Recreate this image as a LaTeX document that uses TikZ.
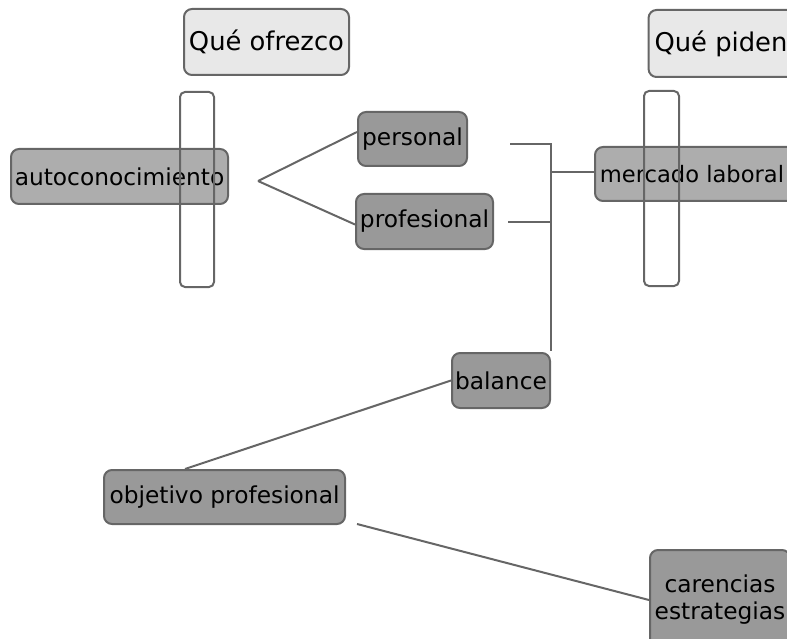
\documentclass[tikz,border=0pt]{standalone}
\usepackage{fontspec}
\setmainfont{DejaVu Sans}
\definecolor{edgegray}{HTML}{666666}
\definecolor{darkfill}{HTML}{999999}
\definecolor{midfill}{HTML}{ADADAD}
\definecolor{lightfill}{HTML}{E8E8E8}
\begin{document}
\begin{tikzpicture}[x=1pt,y=-1pt,
  box/.style={draw=edgegray,line width=2pt,rounded corners=8pt,inner sep=0pt,
    font=\fontsize{23.3}{27}\selectfont,text=black,align=center},
  darkbox/.style={box,fill=darkfill},
  midbox/.style={box,fill=midfill},
  titlebox/.style={box,fill=lightfill,font=\fontsize{25.8}{30}\selectfont},
  barbox/.style={draw=edgegray,line width=2pt,rounded corners=5pt,inner sep=0pt},
  link/.style={draw=edgegray,line width=2pt}]
\useasboundingbox (0,0) rectangle (787,639);
\clip (0,0) rectangle (787,639);

\node[titlebox,minimum width=165pt,minimum height=66pt] (qo) at (266.5,42) {Qué ofrezco};
\node[titlebox,minimum width=146pt,minimum height=67pt] (qp) at (722,43.5) {\hspace*{6pt}Qué piden\hspace*{8pt}};

\node[midbox,minimum width=217pt,minimum height=55pt] (auto) at (119.5,176.5) {autoconocimiento};
\node[barbox,minimum width=34pt,minimum height=195pt] (barL) at (197,189.5) {};

\node[midbox,minimum width=200pt,minimum height=54pt,font=\fontsize{22.6}{27}\selectfont] (merc) at (695,174) {mercado laboral\hspace*{6pt}};
\node[barbox,minimum width=35pt,minimum height=195pt] (barR) at (661.5,188.5) {};

\node[darkbox,minimum width=109pt,minimum height=54pt] (pers) at (412.5,139) {personal};
\node[darkbox,minimum width=137pt,minimum height=55pt] (prof) at (424.5,221.5) {profesional};
\node[darkbox,minimum width=98pt,minimum height=55pt] (bal) at (501,380.5) {balance};
\node[darkbox,minimum width=241pt,minimum height=54pt] (obj) at (224.5,497) {objetivo profesional};
\node[darkbox,minimum width=140pt,minimum height=100pt] (car) at (720,600) {carencias\\estrategias};

\coordinate (fork) at (258,181);
\coordinate (persEnd) at (510,144);
\coordinate (profEnd) at (508,222);
\coordinate (spineTop) at (551,144);
\coordinate (spineProf) at (551,222);
\coordinate (spineMerc) at (551,172);
\coordinate (spineBot) at (551,351);
\coordinate (balEnd) at (185,469);
\coordinate (objEnd) at (357,524);

\draw[link] (fork) -- ([yshift=7pt]pers.west);
\draw[link] (fork) -- ([yshift=-3pt]prof.west);
\draw[link] (persEnd) -- (spineTop) -- (spineBot);
\draw[link] (profEnd) -- (spineProf);
\draw[link] (spineMerc) -- (merc.west |- spineMerc);
\draw[link] (bal.west) -- (balEnd);
\draw[link] (objEnd) -- (car.west);
\end{tikzpicture}
\end{document}
